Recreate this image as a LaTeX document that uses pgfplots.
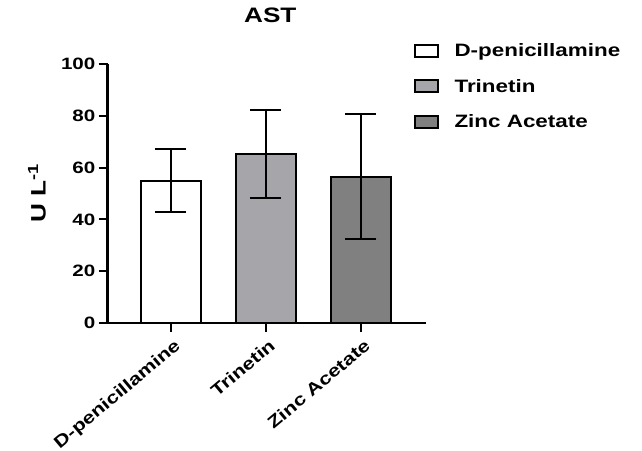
\documentclass[border=0pt]{standalone}
\usepackage{fontspec}
\setmainfont{Liberation Sans}[FakeStretch=1.25]
\usepackage{pgfplots}
\pgfplotsset{compat=1.18}
\definecolor{gA}{RGB}{166,166,170}
\definecolor{gB}{RGB}{128,128,128}
\begin{document}
\begin{tikzpicture}
\path[use as bounding box] (0,0) rectangle (642bp,451bp);
\begin{axis}[
  at={(107.5bp,128bp)}, anchor=south west,
  scale only axis, width=318bp, height=259bp,
  xmin=-0.668, xmax=2.679, ymin=0, ymax=100,
  axis x line=bottom, axis y line=left,
  axis line style={-, line width=2bp},
  ytick={0,20,...,100},
  xtick={0,1,2},
  xticklabels={D-penicillamine,Trinetin,Zinc Acetate},
  tick align=outside, major tick length=9bp,
  tick style={line width=2bp, black},
  /pgf/number format/assume math mode=true,
  ticklabel style={font=\bfseries\fontsize{16.5}{18}\selectfont},
  xticklabel style={font=\bfseries\fontsize{17.2}{19}\selectfont, rotate=40, anchor=north east, inner sep=2bp, yshift=-4bp},
  yticklabel style={inner sep=3bp},
  title={AST},
  title style={font=\bfseries\fontsize{21}{24}\selectfont, at={(axis description cs:0.512,1.166)}, anchor=center},
  ylabel={U L\textsuperscript{-1}},
  ylabel style={font=\bfseries\fontsize{21}{24}\selectfont, at={(axis description cs:-0.222,0.5)}, anchor=center},
  legend style={at={(axis description cs:0.953,1.095)}, anchor=north west, draw=none, fill=none,
    font=\bfseries\fontsize{18}{21}\selectfont, row sep=17bp, cells={anchor=west},
    /tikz/every odd column/.append style={column sep=14bp}},
  legend image code/.code={\draw[#1, line width=1.8bp] (0bp,-6bp) rectangle (23bp,6bp);},
  every axis plot/.append style={ybar, bar width=60bp, bar shift=0pt, draw=black, line width=2bp,
    error bars/y dir=both, error bars/y explicit,
    error bars/error bar style={line width=2bp, black},
    error bars/error mark options={rotate=90, mark size=15.5bp, line width=2bp, black}},
]
\addplot[fill=white, draw=black] coordinates {(0,54.9) +- (0,12.2)};
\addplot[fill=gA, draw=black] coordinates {(1,65.2) +- (0,17.1)};
\addplot[fill=gB, draw=black] coordinates {(2,56.5) +- (0,24.1)};
\legend{D-penicillamine,Trinetin,Zinc Acetate}
\end{axis}
\end{tikzpicture}
\end{document}
